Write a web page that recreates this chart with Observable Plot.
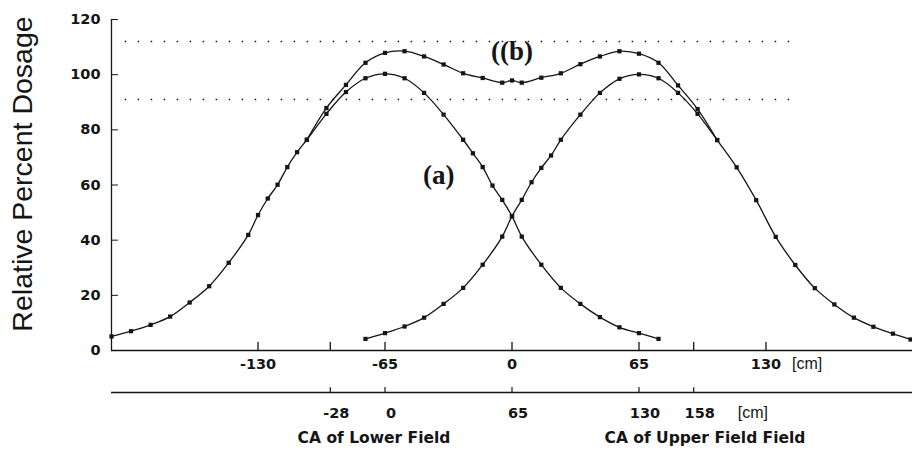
<!DOCTYPE html>
<html><head><meta charset="utf-8">
<script src="https://cdn.jsdelivr.net/npm/d3@7"></script>
<script src="https://cdn.jsdelivr.net/npm/@observablehq/plot@0.6"></script>
<style>body{margin:0;background:#fff}</style>
</head><body><div id="chart"></div>
<script>
// ---- data (x in cm on the upper axis, y in relative percent dosage) ----
const lowerFieldX = [-205,-195,-185,-175,-165,-155,-145,-135,-130,-125,-120,-115,-110,-105,-95,-85,-75,-65,-55,-45,-35,-25,-20,-15,-10,-5,0,5,15,25,35,45,55,65,75];
const lowerFieldY = [5.1,7.0,9.3,12.3,17.4,23.3,31.8,41.9,49.1,55.1,60.1,66.5,71.9,76.4,85.8,93.7,98.7,100.3,98.7,93.4,85.5,76.4,71.5,66.5,59.8,54.6,48.7,41.3,31.1,22.7,16.9,12.1,8.4,6.3,4.2];
const upperFieldX = [-75,-65,-55,-45,-35,-25,-15,-5,0,5,10,15,20,25,35,45,55,65,75,85,95,105,115,125,135,145,155,165,175,185,195,204];
const upperFieldY = [4.2,6.3,8.7,11.9,16.9,22.7,31.1,41.3,48.7,54.6,61.0,66.2,70.7,76.4,85.5,93.4,98.5,100.1,98.7,93.4,85.8,76.3,66.4,54.5,41.2,31.0,22.6,16.7,11.9,8.6,6.1,4.0];
const sumX = [-105,-95,-85,-75,-65,-55,-45,-35,-25,-15,-5,0,5,15,25,35,45,55,65,75,85,95,105];
const sumY = [76.4,87.9,96.3,104.3,107.9,108.5,106.6,103.7,100.5,98.8,97.1,97.9,97.1,98.9,100.5,103.8,106.6,108.5,107.6,104.3,96.1,87.5,76.3];
const refLevels = [112, 91];
const refSpan = [-198, 143];
const xDomain = [-205, 205];
const yDomain = [0, 120];
const yTicks = [0, 20, 40, 60, 80, 100, 120];
const upperTicks = [-130, -65, 0, 65, 130];
const upperMarks = [-93, 93];
const lowerTicks = [-28, 0, 65, 130, 158];
const fieldOffset = 65; // lower axis value = upper axis value + 65
const yTitle = "Relative Percent Dosage";
const lowerTitle = "CA of Lower Field";
const upperTitle = "CA of Upper Field Field";
const unit = "[cm]";

const toRows = (xs, ys) => xs.map((x, i) => ({x, y: ys[i]}));
const lowerField = toRows(lowerFieldX, lowerFieldY);
const upperField = toRows(upperFieldX, upperFieldY);
const sum = toRows(sumX, sumY);

const tickShape = {draw(ctx, l) { ctx.moveTo(0, 0); ctx.lineTo(0, -l); }};
const ink = "#151515";
const tickFont = {fontFamily: "DejaVu Sans", fontWeight: "bold", fontSize: 14.5, fill: ink};
const unitFont = {fontFamily: "Liberation Sans", fontSize: 16, fill: ink};

const series = [lowerField, upperField, sum].flatMap(d => [
  Plot.line(d, {x: "x", y: "y", curve: "catmull-rom", stroke: ink, strokeWidth: 1.3}),
  Plot.dot(d, {x: "x", y: "y", symbol: "square", r: 2.4, fill: ink, stroke: null})
]);

const chart = Plot.plot({
  width: 912, height: 453,
  marginLeft: 111, marginRight: 0, marginTop: 19, marginBottom: 103,
  x: {domain: xDomain, axis: null},
  y: {domain: yDomain, axis: null},
  style: {fontFamily: "Liberation Sans, Arial, sans-serif", background: "#fff", color: ink},
  marks: [
    Plot.ruleY(refLevels, {x1: refSpan[0], x2: refSpan[1], stroke: ink, strokeWidth: 1.5, strokeDasharray: "1.5,11.5"}),
    Plot.ruleX([xDomain[0]], {stroke: ink, strokeWidth: 1.3}),
    Plot.ruleY([yDomain[0]], {stroke: ink, strokeWidth: 1.3}),
    Plot.ruleY([yDomain[0]], {stroke: ink, strokeWidth: 1.3, dy: 42}),
    // y ticks + labels
    Plot.vector(yTicks, {y: d => d, frameAnchor: "left", rotate: 90, length: 6, anchor: "start", shape: tickShape, stroke: ink, strokeWidth: 1}),
    Plot.text(yTicks, {y: d => d, frameAnchor: "left", text: d => String(d), textAnchor: "end", dx: -11, ...tickFont, ariaLabel: "ytick-labels"}),
    // upper x axis
    Plot.vector([...upperTicks, ...upperMarks], {x: d => d, frameAnchor: "bottom", length: 8, anchor: "start", shape: tickShape, stroke: ink, strokeWidth: 1.3}),
    Plot.text(upperTicks, {x: d => d, frameAnchor: "bottom", textAnchor: "middle", dy: 18, text: d => String(d), ...tickFont, ariaLabel: "xtick-labels"}),
    Plot.text([unit], {x: upperTicks[upperTicks.length - 1], frameAnchor: "bottom", dy: 18, dx: 26, textAnchor: "start", ...unitFont}),
    // lower x axis
    Plot.vector(lowerTicks, {x: d => d - fieldOffset, frameAnchor: "bottom", dy: 42, length: 5, anchor: "start", shape: tickShape, stroke: ink, strokeWidth: 1.2}),
    Plot.text(lowerTicks, {x: d => d - fieldOffset, frameAnchor: "bottom", textAnchor: "middle", dy: 67, dx: 6, text: d => String(d), ...tickFont, ariaLabel: "xtick-labels"}),
    Plot.text([unit], {x: lowerTicks[lowerTicks.length - 1] - fieldOffset, frameAnchor: "bottom", dy: 67, dx: 44, textAnchor: "start", ...unitFont}),
    Plot.text([lowerTitle], {x: lowerTicks[1] - fieldOffset, frameAnchor: "bottom", textAnchor: "middle", dy: 92, dx: -11, fontFamily: "DejaVu Sans", fontWeight: "bold", fontSize: 15.5, fill: ink}),
    Plot.text([upperTitle], {x: lowerTicks[3] - fieldOffset, frameAnchor: "bottom", textAnchor: "middle", dy: 92, dx: 66, fontFamily: "DejaVu Sans", fontWeight: "bold", fontSize: 15.5, fill: ink}),
    // y title
    Plot.text([yTitle], {frameAnchor: "left", textAnchor: "middle", rotate: -90, dx: -89, dy: -11, fontSize: 28.5, fontFamily: "Liberation Sans", fill: ink}),
    ...series,
    // curve labels anchored to data points
    Plot.text([lowerFieldX.indexOf(-15)], {x: i => lowerFieldX[i], y: i => lowerFieldY[i], text: () => "(a)", dx: -44, dy: 8, fontFamily: "Liberation Serif", fontWeight: "bold", fontSize: 27, fill: ink}),
    Plot.text([sumX.indexOf(0)], {x: i => sumX[i], y: i => sumY[i], text: () => "((b)", dy: -29, fontFamily: "Liberation Serif", fontWeight: "bold", fontSize: 27, fill: ink, ariaLabel: "b-label"})
  ]
});
chart.querySelectorAll('g[aria-label="ytick-labels"] text, g[aria-label="xtick-labels"] text').forEach(t => t.style.letterSpacing = "2.5px");
chart.querySelectorAll('g[aria-label="b-label"] text').forEach(t => t.style.letterSpacing = "1px");
document.getElementById("chart").appendChild(chart);
</script>
</body></html>
